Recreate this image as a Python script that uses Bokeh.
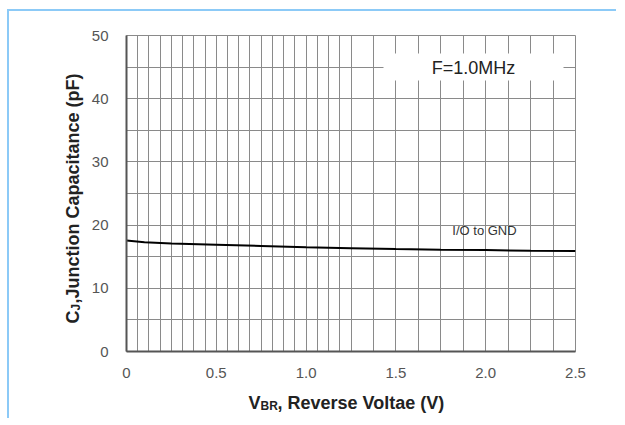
import numpy as np
from bokeh.plotting import figure
from bokeh.models import FixedTicker, Label, BoxAnnotation, Range1d
from bokeh.embed import file_html
from bokeh.resources import INLINE

# ---- data ----
voltage = [0, 0.1, 0.25, 0.5, 0.75, 1.0, 1.25, 1.5, 1.75, 2.0, 2.25, 2.5]
capacitance = [17.55, 17.3, 17.1, 16.9, 16.7, 16.5, 16.35, 16.2, 16.1, 16.05, 15.95, 15.9]
x_ticks = [0, 0.5, 1.0, 1.5, 2.0, 2.5]
x_tick_labels = {0: "0", 0.5: "0.5", 1: "1.0", 1.5: "1.5", 2: "2.0", 2.5: "2.5"}
y_ticks = [0, 10, 20, 30, 40, 50]
series_label = "I/O to GND"
freq_label = "F=1.0MHz"

X0, X1, Y0, Y1 = 0.0, 2.5, 0.0, 50.0
OX, OY = 9, 11          # canvas origin on the page (after margin + border)
W, H = 609, 409
ML, MT, FW, FH = 117, 24, 449, 316
MR = W - ML - FW
MB = H - MT - FH
TOP_PX, BOT_PX = 37, 353  # expected frame top/bottom on the page

def dx(px):  # page pixel -> data x
    return X0 + (px - OX - ML) / FW * (X1 - X0)

def dy(py):  # page pixel -> data y
    return Y0 + (BOT_PX - py) / (BOT_PX - TOP_PX) * (Y1 - Y0)

p = figure(width=W, height=H, output_backend="svg", toolbar_location=None,
           x_range=Range1d(X0, X1), y_range=Range1d(Y0, Y1),
           min_border_left=ML, min_border_right=MR, min_border_top=MT, min_border_bottom=MB)
p.styles = {"border-left": "2px solid #8ccaf7", "border-top": "2px solid #8ccaf7",
            "margin-left": "7px", "margin-top": "9px"}

# grid
fine = list(np.arange(0, 1.25, 0.0625)) + list(np.arange(1.25, 2.5001, 0.125))
p.xgrid.ticker = FixedTicker(ticks=fine)
p.ygrid.ticker = FixedTicker(ticks=list(np.arange(0, 50.01, 5)))
for g in (p.xgrid, p.ygrid):
    g.grid_line_color = "#8a8a8a"
    g.grid_line_width = 1
    g.grid_line_alpha = 1.0

# axes
p.xaxis.ticker = FixedTicker(ticks=x_ticks)
p.xaxis.major_label_overrides = x_tick_labels
p.yaxis.ticker = FixedTicker(ticks=y_ticks)
for ax in (p.xaxis, p.yaxis):
    ax.major_tick_in = 0
    ax.major_tick_out = 0
    ax.minor_tick_in = 0
    ax.minor_tick_out = 0
    ax.axis_line_color = "#555555"
    ax.axis_line_width = 2
    ax.major_label_text_font = "Liberation Sans"
    ax.major_label_text_font_size = "15px"
    ax.major_label_text_color = "#555555"
p.xaxis.major_label_standoff = 16
p.yaxis.major_label_standoff = 18
p.outline_line_color = "#8a8a8a"
p.outline_line_width = 1
p.background_fill_color = "white"
p.border_fill_color = "white"

# white box behind frequency note
p.add_layout(BoxAnnotation(left=dx(383), right=dx(563), bottom=dy(82), top=dy(55),
                           fill_color="white", fill_alpha=1.0, line_alpha=0, level="underlay"))

p.line(voltage, capacitance, line_color="black", line_width=2)

p.add_layout(Label(x=dx(473), y=dy(69), text=freq_label, text_align="center",
                   text_baseline="middle", text_font="Liberation Sans",
                   text_font_size="18px", text_color="#222222"))
p.add_layout(Label(x=dx(484), y=dy(232), text=series_label, text_align="center",
                   text_baseline="middle", text_font="Liberation Sans",
                   text_font_size="13px", text_color="#333333"))

# axis titles built from pieces (for the subscripts), placed in the side panels
lab = dict(text_font="Liberation Sans", text_font_style="bold", text_color="#222222",
           text_baseline="alphabetic", text_align="left")
# x: V_BR, Reverse Voltae (V)
p.add_layout(Label(x=dx(248), y=dy(404), text="V", text_font_size="18px", **lab), "right")
p.add_layout(Label(x=dx(260), y=dy(407), text="BR", text_font_size="12px", **lab), "right")
p.add_layout(Label(x=dx(277), y=dy(404), text=", Reverse Voltae (V)", text_font_size="18px", **lab), "below")
# y: C_J,Junction Capacitance (pF)
ang = np.pi / 2
p.add_layout(Label(x=dx(72), y=dy(325), text="C", angle=ang, text_font_size="18px", **lab), "left")
p.add_layout(Label(x=dx(75), y=dy(312), text="J", angle=ang, text_font_size="12px", **lab), "left")
p.add_layout(Label(x=dx(72), y=dy(305), text=",Junction Capacitance (pF)", angle=ang,
                   text_font_size="18px", **lab), "left")

open("out.html", "w").write(file_html(p, INLINE))
